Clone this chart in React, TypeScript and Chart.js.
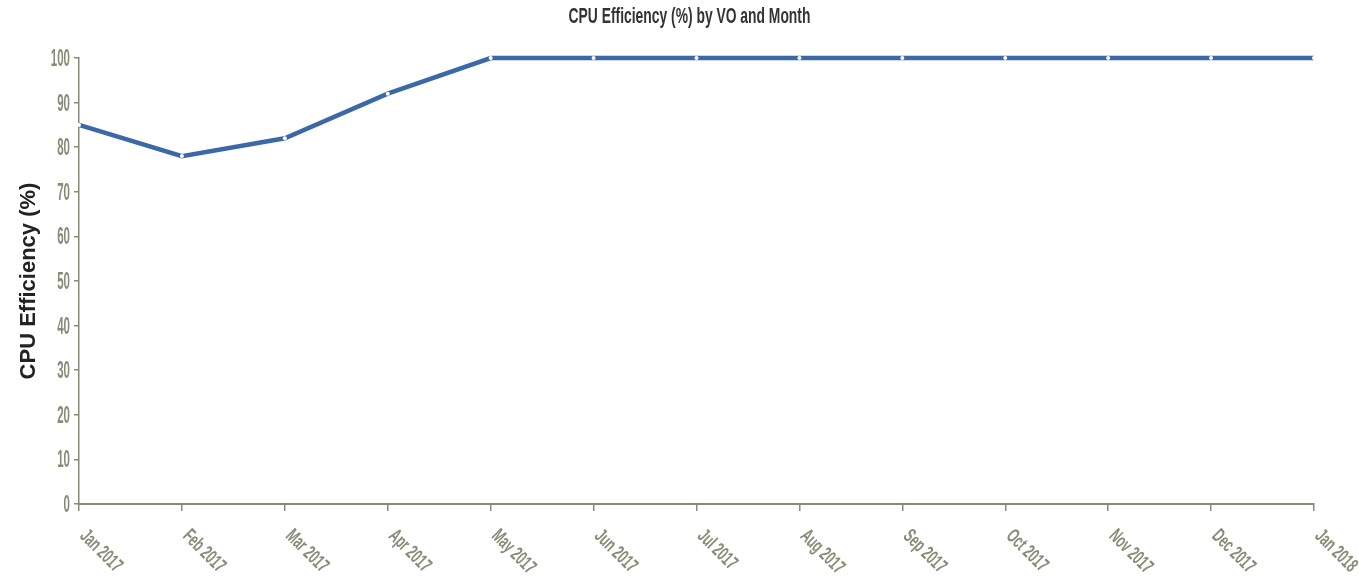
import React, { useEffect, useRef } from "react";
import { Chart, registerables } from "chart.js";

Chart.register(...registerables);

const months = [
  "Jan 2017", "Feb 2017", "Mar 2017", "Apr 2017", "May 2017", "Jun 2017",
  "Jul 2017", "Aug 2017", "Sep 2017", "Oct 2017", "Nov 2017", "Dec 2017", "Jan 2018",
];
const efficiency = [85, 78, 82, 92, 100, 100, 100, 100, 100, 100, 100, 100, 100];
const yTicks = { min: 0, max: 100, step: 10 };
const chartTitle = "CPU Efficiency (%) by VO and Month";
const yTitle = "CPU Efficiency (%)";

const FONT = "'Liberation Sans', Arial, sans-serif";
const AXIS_COLOR = "#8a8a77";

// Draw text horizontally condensed (no condensed font is installed)
function condensedText(ctx: CanvasRenderingContext2D, text: string, x: number, y: number, sx: number, align: "left" | "right" | "center", rot = 0) {
  ctx.save();
  ctx.translate(x, y);
  if (rot) ctx.rotate(rot);
  ctx.scale(sx, 1);
  ctx.textAlign = align;
  ctx.fillText(text, 0, 0);
  ctx.restore();
}

const textPlugin = {
  id: "condensedTexts",
  afterDraw(chart: any) {
    const ctx: CanvasRenderingContext2D = chart.ctx;
    const xs = chart.scales.x;
    const ys = chart.scales.y;
    const area = chart.chartArea;
    ctx.save();
    ctx.textBaseline = "alphabetic";

    // title
    ctx.fillStyle = "#333333";
    ctx.font = `bold 22px ${FONT}`;
    condensedText(ctx, chartTitle, chart.width / 2 + 10, 23, 0.63, "center");

    // y tick labels
    ctx.fillStyle = AXIS_COLOR;
    ctx.font = `bold 23px ${FONT}`;
    ys.ticks.forEach((t: any) => {
      const y = ys.getPixelForValue(t.value);
      condensedText(ctx, String(t.value), area.left - 9, y + 8, 0.5, "right");
    });

    // x tick labels, rotated 45deg downward
    ctx.font = `bold 20px ${FONT}`;
    (chart.data.labels as string[]).forEach((lab, i) => {
      const x = xs.getPixelForTick(i);
      condensedText(ctx, lab, x, area.bottom + 33, 0.6, "left", Math.PI / 4);
    });

    // y axis title
    ctx.fillStyle = "#222222";
    ctx.font = `bold 22px ${FONT}`;
    ctx.textBaseline = "middle";
    condensedText(ctx, yTitle, 29, (area.top + area.bottom) / 2, 1, "center", -Math.PI / 2);
    ctx.restore();
  },
};

export default function App() {
  const ref = useRef<HTMLCanvasElement | null>(null);
  useEffect(() => {
    document.body.style.margin = "0";
    const chart = new Chart(ref.current as HTMLCanvasElement, {
      type: "line",
      data: {
        labels: months,
        datasets: [
          {
            label: "CPU Efficiency",
            data: efficiency,
            borderColor: "#3b69a8",
            borderWidth: 4.5,
            pointRadius: 2,
            pointBackgroundColor: "#ffffff",
            pointBorderWidth: 0,
            pointBorderColor: "#ffffff",
            tension: 0,
            fill: false,
            clip: false as any,
          },
        ],
      },
      options: {
        animation: false,
        responsive: false,
        maintainAspectRatio: false,
        layout: { padding: { left: 0, right: 45, top: 58, bottom: 0 } },
        plugins: {
          legend: { display: false },
          tooltip: { enabled: false },
          title: { display: false },
        },
        scales: {
          x: {
            offset: false,
            grid: { drawOnChartArea: false, drawTicks: true, tickLength: 7, color: AXIS_COLOR, lineWidth: 1.5 },
            border: { color: AXIS_COLOR, width: 2 },
            ticks: { display: false },
            afterFit: (s: any) => { s.height = 78; },
          },
          y: {
            min: yTicks.min,
            max: yTicks.max,
            grid: { drawOnChartArea: false, drawTicks: true, tickLength: 5, color: AXIS_COLOR, lineWidth: 1.5 },
            border: { color: AXIS_COLOR, width: 1.5 },
            ticks: { stepSize: yTicks.step, display: false },
            afterFit: (s: any) => { s.width = 79; },
          },
        },
      },
      plugins: [textPlugin],
    });
    return () => chart.destroy();
  }, []);
  return <canvas ref={ref} width={1359} height={582} style={{ display: "block" }} />;
}
